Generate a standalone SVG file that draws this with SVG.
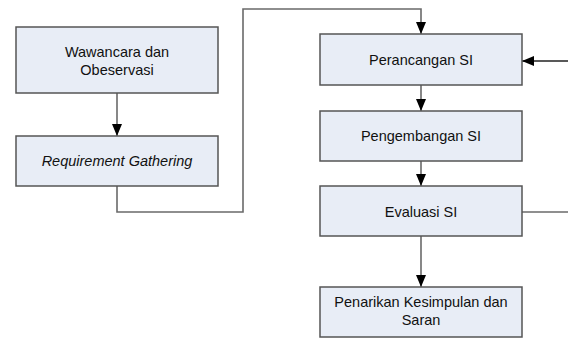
<svg xmlns="http://www.w3.org/2000/svg" width="568" height="338" viewBox="0 0 568 338">
<style>
.box{fill:#e8edf6;stroke:#555;stroke-width:1.5}
.t{font-family:"Liberation Sans",Arial,sans-serif;font-size:14.5px;fill:#111;text-anchor:middle}
.c{fill:none;stroke:#6a6a6a;stroke-width:1.6}
</style>
<defs>
<marker id="ah" viewBox="0 0 12 10" refX="12" refY="5" markerWidth="12" markerHeight="10" markerUnits="userSpaceOnUse" orient="auto">
<path d="M0,0 L12,5 L0,10 Z" fill="#000"/>
</marker>
</defs>
<rect width="568" height="338" fill="#fff"/>
<g id="connectors">
<line class="c" x1="117" y1="93" x2="117" y2="136" marker-end="url(#ah)" stroke="#000"/>
<polyline class="c" points="117,186 117,212 243,212 243,9 421,9 421,34" marker-end="url(#ah)"/>
<line class="c" x1="421" y1="85" x2="421" y2="111" marker-end="url(#ah)"/>
<line class="c" x1="421" y1="161" x2="421" y2="186" marker-end="url(#ah)"/>
<line class="c" x1="421" y1="236" x2="421" y2="287" marker-end="url(#ah)"/>
<line class="c" x1="522" y1="212" x2="568" y2="212"/>
<line class="c" x1="568" y1="61" x2="522" y2="61" marker-end="url(#ah)" style="stroke:#222"/>
</g>
<g id="n1"><rect class="box" x="16" y="27" width="202" height="66"/>
<text class="t" x="117" y="57">Wawancara dan</text><text class="t" x="117" y="75">Obeservasi</text></g>
<g id="n2"><rect class="box" x="16" y="136" width="202" height="50"/>
<text class="t" x="117" y="166" font-style="italic">Requirement Gathering</text></g>
<g id="n3"><rect class="box" x="320" y="34" width="202" height="51"/>
<text class="t" x="421" y="65">Perancangan SI</text></g>
<g id="n4"><rect class="box" x="320" y="111" width="202" height="50"/>
<text class="t" x="421" y="141">Pengembangan SI</text></g>
<g id="n5"><rect class="box" x="320" y="186" width="202" height="50"/>
<text class="t" x="421" y="217">Evaluasi SI</text></g>
<g id="n6"><rect class="box" x="320" y="287" width="202" height="50"/>
<text class="t" x="421" y="307">Penarikan Kesimpulan dan</text><text class="t" x="421" y="325">Saran</text></g>
</svg>
